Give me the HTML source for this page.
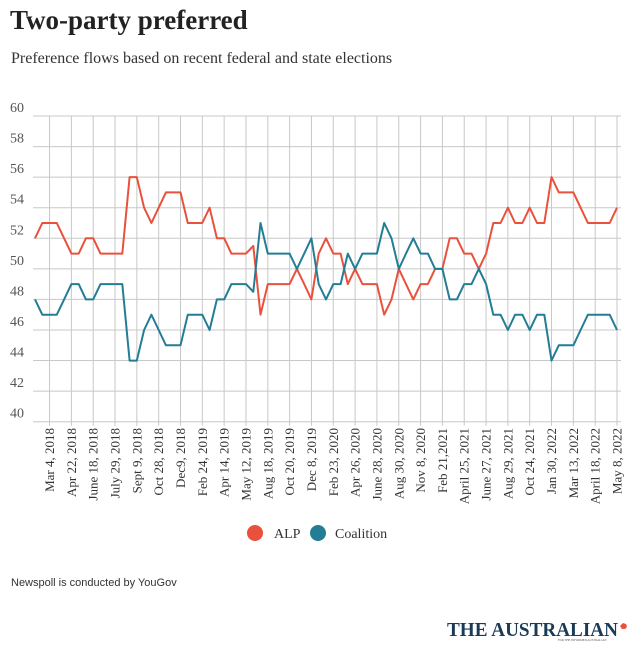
<!DOCTYPE html>
<html><head><meta charset="utf-8"><style>
body{margin:0;background:#fff;width:639px;height:651px;overflow:hidden;font-family:"Liberation Serif",serif}
</style></head><body>
<svg width="639" height="651" xmlns="http://www.w3.org/2000/svg">
<text x="10" y="29" font-size="27" font-weight="bold" fill="#222" font-family="Liberation Serif,serif">Two-party preferred</text>
<text x="11" y="63" font-size="16" fill="#333" font-family="Liberation Serif,serif">Preference flows based on recent federal and state elections</text>
<g id="grid"></g>
<g id="ylab"></g>
<g id="xlab"></g>
<g id="lines"></g>
<g>
<g><circle cx="255" cy="533" r="8" fill="#e9513c"/><text x="274" y="538" font-size="14" fill="#333">ALP</text></g>
<g><circle cx="318" cy="533" r="8" fill="#237d95"/><text x="335" y="538" font-size="14" fill="#333">Coalition</text></g>
</g>
<text x="11" y="586" font-size="11" fill="#333" font-family="Liberation Sans,sans-serif">Newspoll is conducted by YouGov</text>
<g>
<text x="447" y="636" font-size="20" font-weight="bold" fill="#1b3a57" textLength="171" lengthAdjust="spacingAndGlyphs" font-family="Liberation Serif,serif">THE AUSTRALIAN</text>
<text x="558" y="641" font-size="3" fill="#555">FOR THE INFORMED AUSTRALIAN</text>
<path d="M620 626 l3 -3 l3 1 l1 3 l-2 2 l-3 0 z" fill="#e9513c"/>
</g>
</svg>
<script>
const dateLabels=["Mar 4, 2018","Apr 22, 2018","June 18, 2018","July 29, 2018","Sept 9, 2018","Oct 28, 2018","Dec9, 2018","Feb 24, 2019","Apr 14, 2019","May 12, 2019","Aug 18, 2019","Oct 20, 2019","Dec 8, 2019","Feb 23, 2020","Apr 26, 2020","June 28, 2020","Aug 30, 2020","Nov 8, 2020","Feb 21,2021","April 25, 2021","June 27, 2021","Aug 29, 2021","Oct 24, 2021","Jan 30, 2022","Mar 13, 2022","April 18, 2022","May 8, 2022"];
const yTicks=[40,42,44,46,48,50,52,54,56,58,60];
const alp=[52,53,53,53,52,51,51,52,52,51,51,51,51,56,56,54,53,54,55,55,55,53,53,53,54,52,52,51,51,51,51.5,47,49,49,49,49,50,49,48,51,52,51,51,49,50,49,49,49,47,48,50,49,48,49,49,50,50,52,52,51,51,50,51,53,53,54,53,53,54,53,53,56,55,55,55,54,53,53,53,53,54];
const coalition=[48,47,47,47,48,49,49,48,48,49,49,49,49,44,44,46,47,46,45,45,45,47,47,47,46,48,48,49,49,49,48.5,53,51,51,51,51,50,51,52,49,48,49,49,51,50,51,51,51,53,52,50,51,52,51,51,50,50,48,48,49,49,50,49,47,47,46,47,47,46,47,47,44,45,45,45,46,47,47,47,47,46];
const NS="http://www.w3.org/2000/svg";
const x0=35,x1=617,yTop=116,yBot=421.7,gridL=35,gridR=621;
const n=alp.length;
function xs(i){return x0+(x1-x0)*i/(n-1);}
function ys(v){return yBot-(v-40)/(60-40)*(yBot-yTop);}
function mk(t,a,p){const e=document.createElementNS(NS,t);for(const k in a)e.setAttribute(k,a[k]);p.appendChild(e);return e;}
const grid=document.getElementById('grid'),ylab=document.getElementById('ylab'),xlab=document.getElementById('xlab'),lines=document.getElementById('lines');
yTicks.forEach(v=>{
 const l=mk('line',{x1:gridL-2,x2:gridR,y1:ys(v),y2:ys(v),stroke:'#c8c8c8','stroke-width':1},grid);
 
 
 const t=mk('text',{x:10,y:ys(v)-4,'font-size':14,fill:'#555'},ylab);
 t.textContent=v;
 
 
});
dateLabels.forEach((s,k)=>{
 const i=2+3*k;const x=xs(i);
 const l=mk('line',{x1:x,x2:x,y1:yTop,y2:yBot+4,stroke:'#c8c8c8','stroke-width':1},grid);
 
 
 const t=mk('text',{transform:`translate(${x+4.5},428) rotate(-90)`,'text-anchor':'end','font-size':13,fill:'#333'},xlab);
 t.textContent=s;
 
 
});
function line(arr,col,name){
 const p=mk('polyline',{points:arr.map((v,i)=>xs(i).toFixed(1)+','+ys(v).toFixed(1)).join(' '),fill:'none',stroke:col,'stroke-width':2,'stroke-linejoin':'round'},lines);
 
 
}
line(alp,'#e9513c','alp-line');
line(coalition,'#237d95','coalition-line');
</script>
</body></html>
